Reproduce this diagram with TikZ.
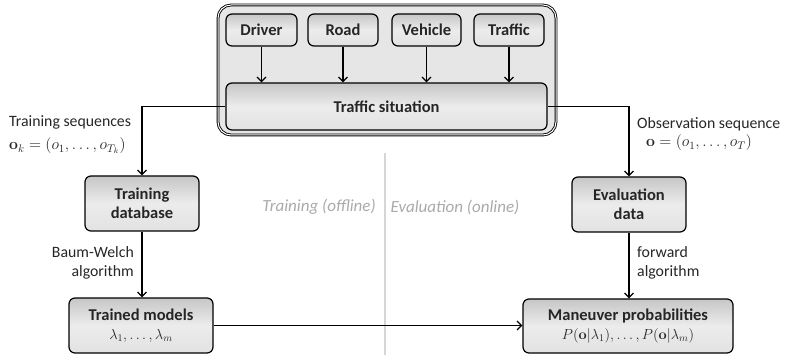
\documentclass[tikz,border=0pt]{standalone}
\usepackage{fix-cm}
\usepackage[no-math]{fontspec}
\setmainfont{Carlito}
\usetikzlibrary{arrows.meta,positioning,shadings}

\definecolor{boxtop}{HTML}{C6C6C6}
\definecolor{boxmid}{HTML}{ECECEC}
\definecolor{boxbot}{HTML}{E2E2E2}
\definecolor{framefill}{HTML}{E6E6E6}
\definecolor{phasegray}{HTML}{AAAAAA}
\definecolor{dividergray}{HTML}{D6D6D6}

\newcommand{\boxmath}[1]{{\mdseries\fontsize{14.5}{16}\selectfont$#1$}}

\tikzset{
  x=1pt, y=-1pt,
  stage/.style={draw=black, line width=1.2pt, rounded corners=6pt,
    top color=boxtop, bottom color=boxbot, middle color=boxmid,
    font=\fontsize{16.5}{19.5}\selectfont\bfseries, align=center,
    inner sep=0pt, text=black!85},
  flow/.style={line width=1.2pt, -{Straight Barb[length=4.5pt,width=9pt]}},
  note/.style={font=\fontsize{15.8}{19}\selectfont, inner sep=0pt, text=black!85},
  phase/.style={font=\fontsize{17}{19}\selectfont\itshape, text=phasegray, inner sep=0pt},
}

\begin{document}
\begin{tikzpicture}
\useasboundingbox (0,0) rectangle (787,355);

% enclosing frame of the traffic situation inputs
\node[draw=black, line width=0.9pt, double=white, double distance=1pt,
      rounded corners=13pt, fill=framefill,
      minimum width=338pt, minimum height=130pt, inner sep=0pt]
      (frame) at (387,70) {};

% influence factors
\node[stage, minimum width=71pt, minimum height=32pt] (driver)  at (261.5,30) {Driver};
\node[stage, minimum width=70pt, minimum height=32pt] (road)    at (343,30)   {Road};
\node[stage, minimum width=69pt, minimum height=32pt] (vehicle) at (426.5,30) {Vehicle};
\node[stage, minimum width=70pt, minimum height=32pt] (traffic) at (509,30)   {Traffic};

\node[stage, minimum width=321pt, minimum height=47pt] (situation) at (386.5,106.5) {Traffic situation};

\foreach \n in {driver,road,vehicle,traffic}
  \draw[flow] (\n.south) -- (\n.south |- situation.north);

% training branch
\node[stage, minimum width=114pt, minimum height=55pt] (tdb) at (142,203.5) {Training\\database};
\node[stage, minimum width=144pt, minimum height=55pt] (models) at (141,325.5)
  {Trained models\\[-1pt]\boxmath{\lambda_1,\ldots,\lambda_m}};

% evaluation branch
\node[stage, minimum width=114pt, minimum height=55pt] (edata) at (629,204.5) {Evaluation\\data};
\node[stage, minimum width=210pt, minimum height=54pt] (probs) at (628,326)
  {Maneuver probabilities\\[-1pt]\boxmath{P(\mathbf{o}|\lambda_1),\ldots,P(\mathbf{o}|\lambda_m)}};

% phase divider
\draw[dividergray, line width=2.6pt] (385,153) coordinate (dtop) -- (385,355) coordinate (dbot);
\node[phase] (offline) at (319,207) {Training (offline)};
\node[phase] (online)  at (455,207) {Evaluation (online)};

% connectors
\draw[flow] (situation.west) -| (tdb.north);
\draw[flow] (situation.east) -| (edata.north);
\draw[flow] (tdb.south) -- (tdb.south |- models.north);
\draw[flow] (edata.south) -- (edata.south |- probs.north);
\draw[flow] (models.east) -- (models.east -| probs.west);

% connector labels
\node[note, anchor=west] (tslabel) at (9,122) {Training sequences};
\node[note, anchor=west] (tsmath)  at (9,146) {$\mathbf{o}_k=(o_1,\ldots,o_{T_k})$};
\node[note, anchor=west] (oslabel) at (637,124) {Observation sequence};
\node[note, anchor=west] (osmath)  at (646,143) {$\mathbf{o}=(o_1,\ldots,o_{T})$};
\node[note, anchor=east, align=right] (bw) at (134,263) {Baum-Welch\\algorithm};
\node[note, anchor=west, align=left]  (fw) at (637,263) {forward\\algorithm};
\end{tikzpicture}
\end{document}
